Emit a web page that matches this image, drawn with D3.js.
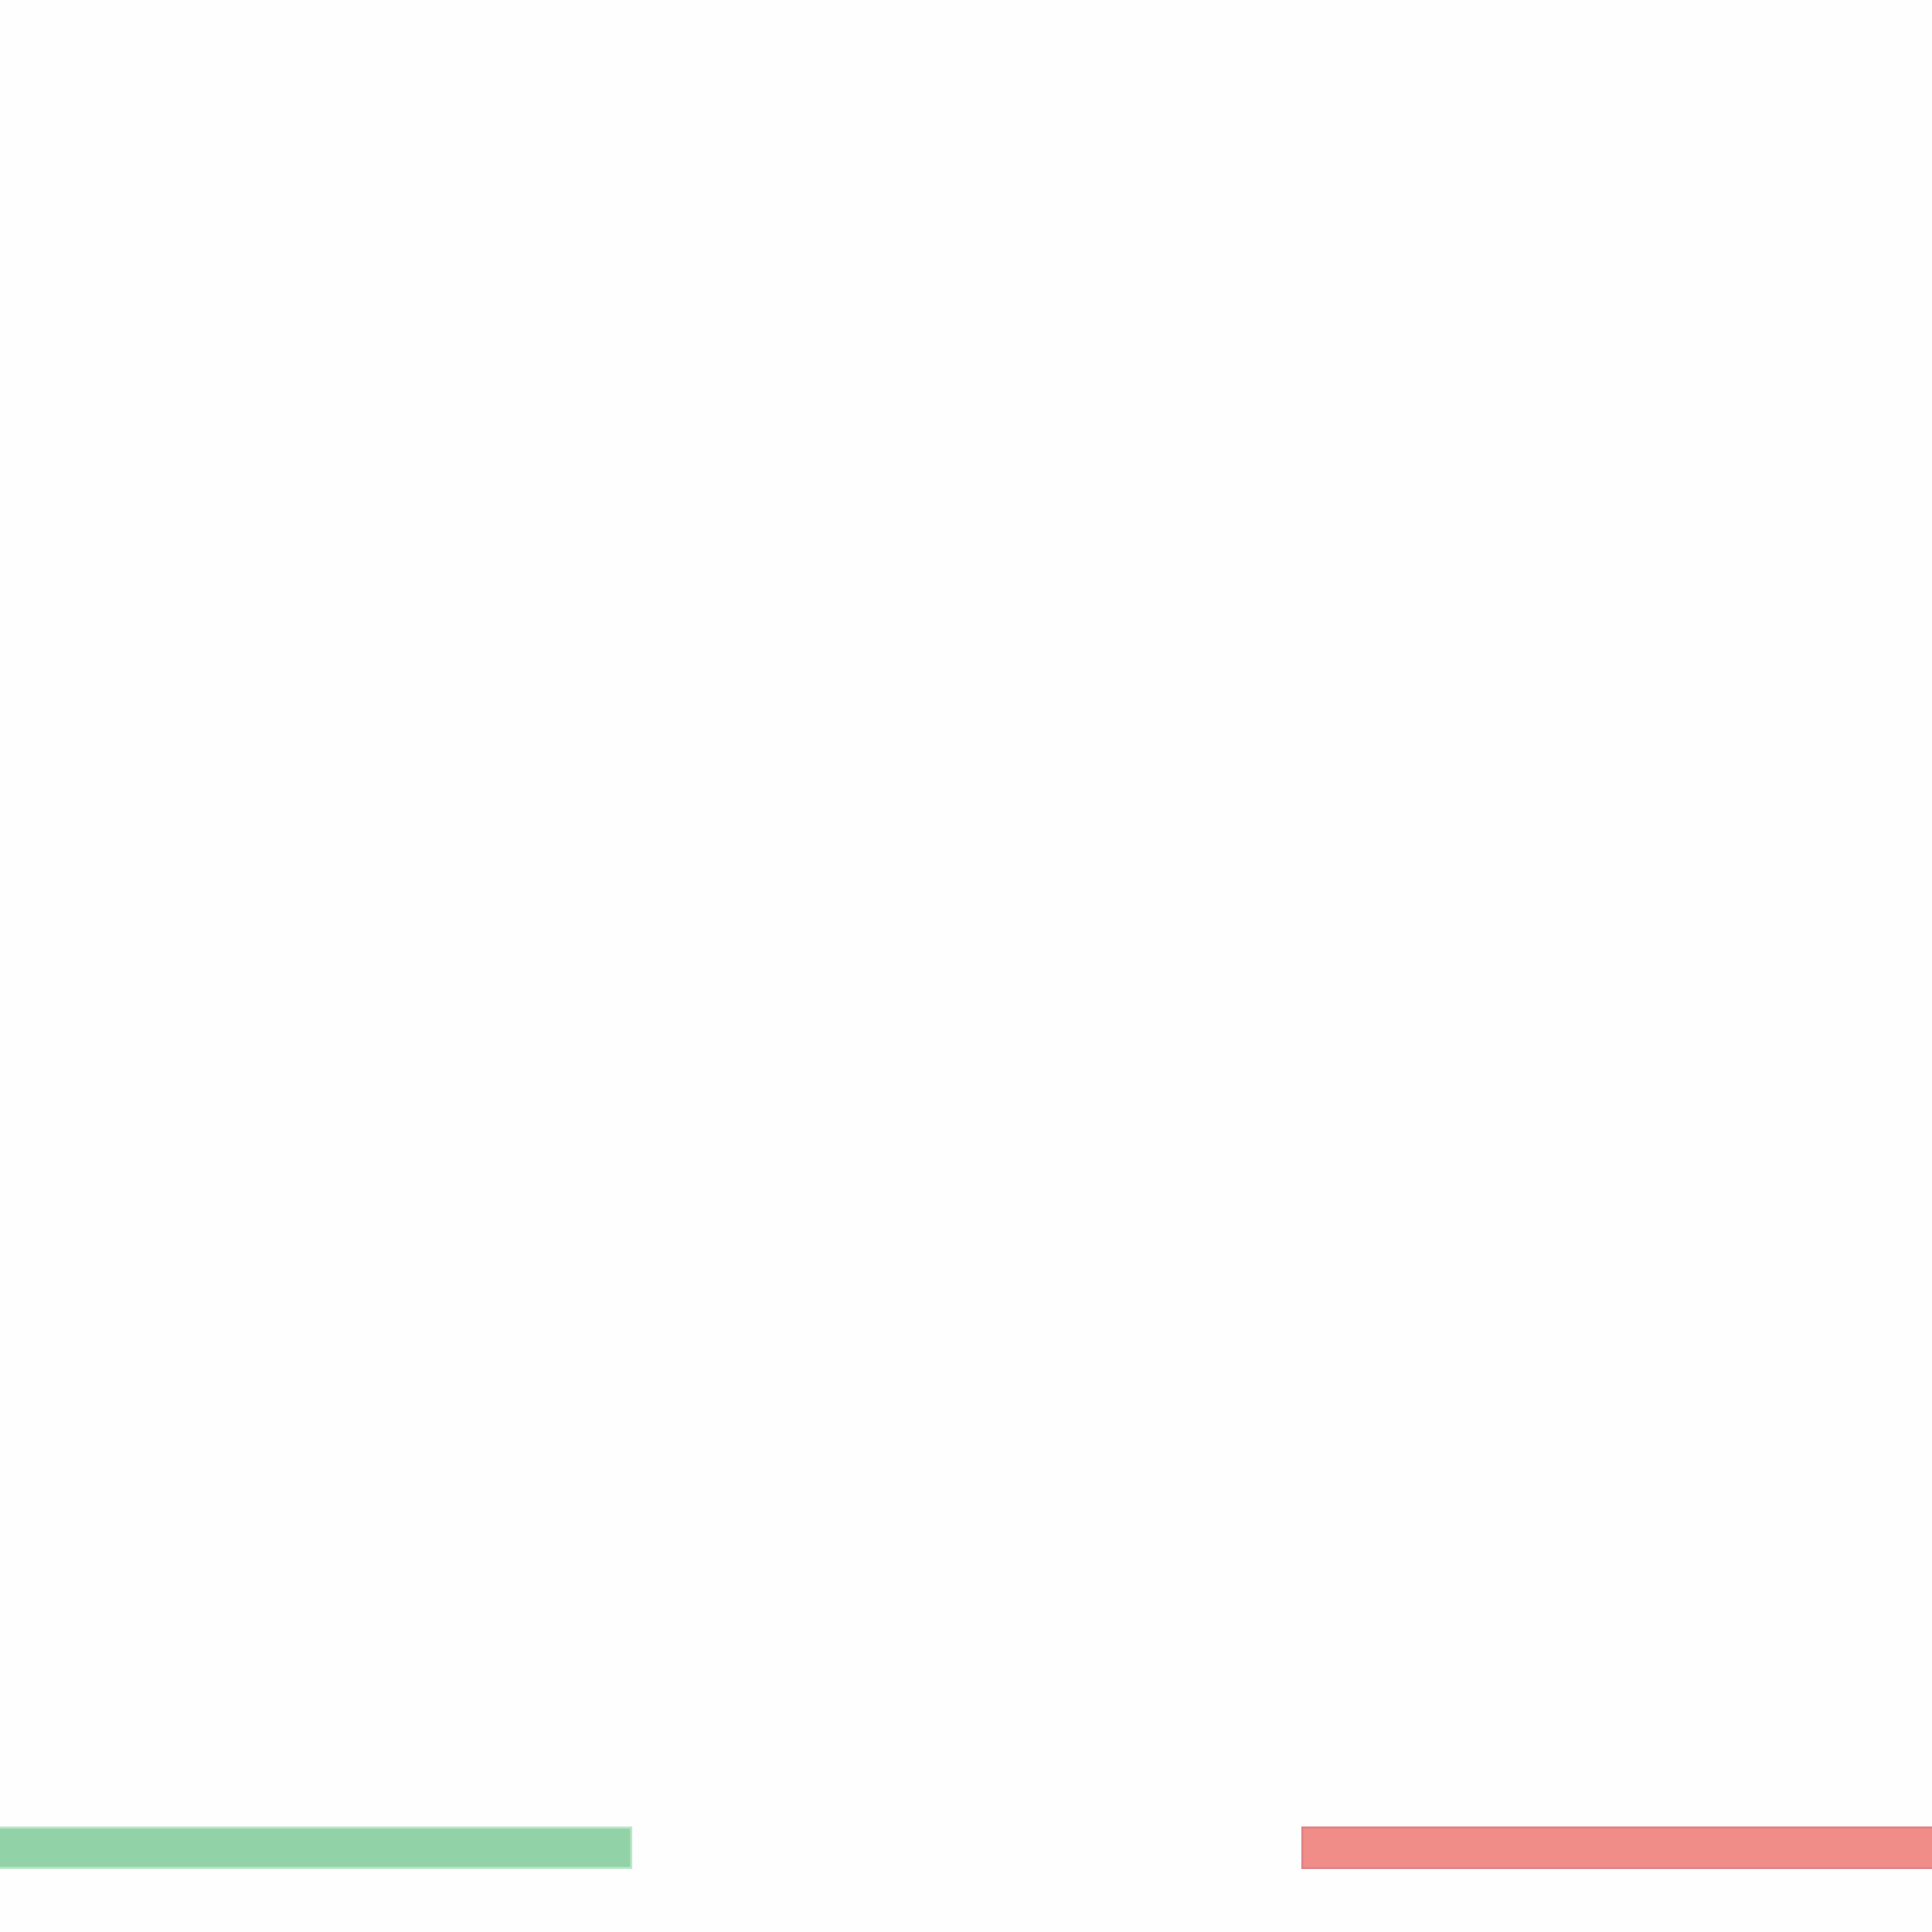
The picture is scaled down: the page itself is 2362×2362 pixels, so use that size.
<!DOCTYPE html>
<html>
<head>
<meta charset="utf-8">
<script src="https://cdn.jsdelivr.net/npm/d3@7"></script>
<style>
html, body { margin: 0; padding: 0; background: #fefefe; overflow: hidden; }
svg { display: block; }
</style>
</head>
<body>
<svg id="chart"></svg>
<script>
// Data
const categories = ["Gain", "Loss"];
const values = [2, 2];
const fills = ["#91d3a7", "#f08d89"];
const strokes = ["#bfe6cb", "#e28285"];

const W = 2362, H = 2362;
const svg = d3.select("#chart").attr("width", W).attr("height", H);

const x = d3.scaleBand()
  .domain(categories)
  .range([-45, 2409])
  .paddingInner(0.5)
  .paddingOuter(0);

const y = d3.scaleLinear()
  .domain([0, 50])
  .range([2285, 985]);

const sw = 2.5;
svg.selectAll("rect.bar")
  .data(categories.map((c, i) => ({ c, v: values[i], i })))
  .join("rect")
  .attr("class", "bar")
  .attr("x", d => x(d.c) + sw / 2)
  .attr("width", x.bandwidth() - sw)
  .attr("y", d => y(d.v) + sw / 2)
  .attr("height", d => y(0) - y(d.v) - sw)
  .attr("fill", d => fills[d.i])
  .attr("stroke", d => strokes[d.i])
  .attr("stroke-width", sw);
</script>
</body>
</html>
